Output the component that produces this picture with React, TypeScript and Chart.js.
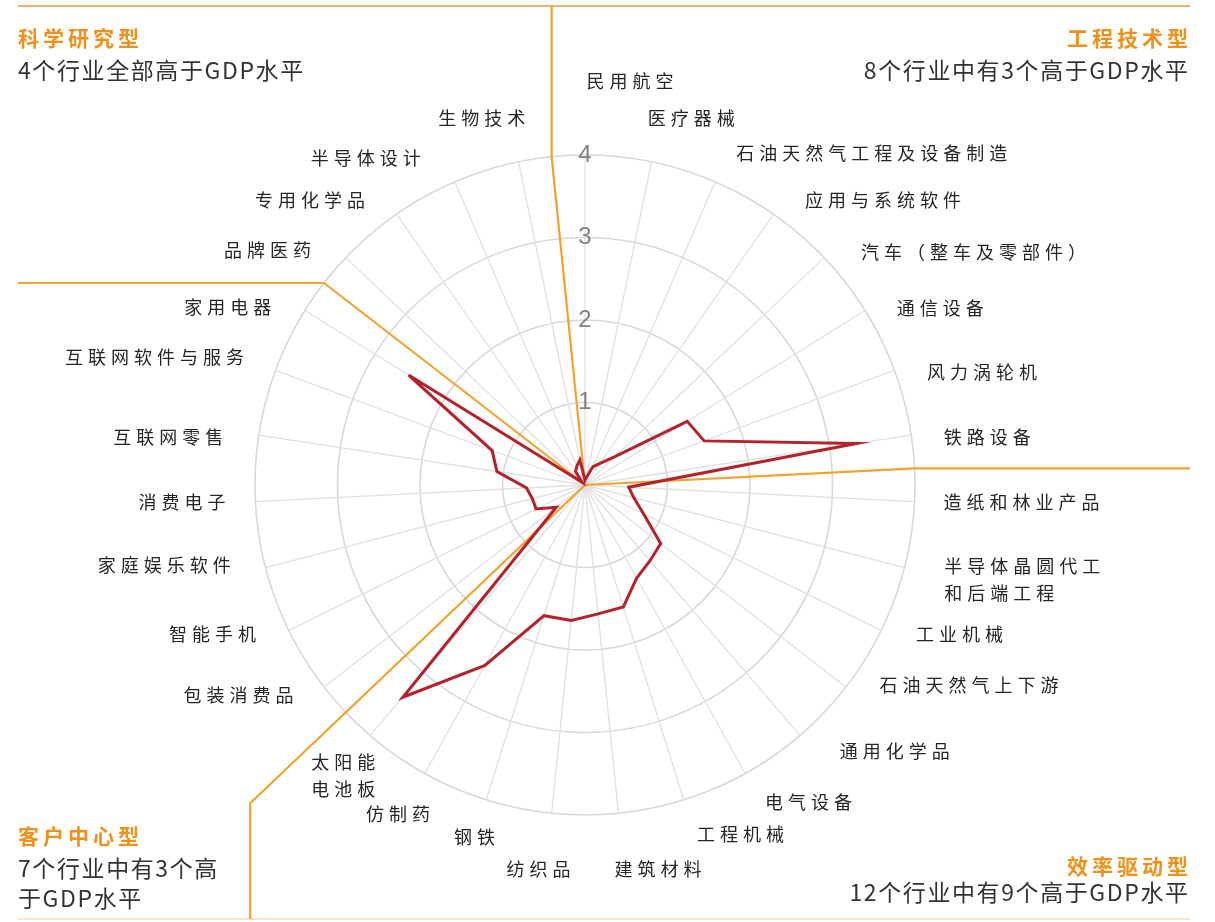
import React, { useEffect, useRef } from 'react';
import { Chart, registerables } from 'chart.js';

Chart.register(...registerables);

// ---- data ----
const categories: (string | string[])[] = [
  '民用航空', '医疗器械', '石油天然气工程及设备制造', '应用与系统软件', '汽车（整车及零部件）', '通信设备', '风力涡轮机', '铁路设备',
  '造纸和林业产品', ['半导体晶圆代工', '和后端工程'], '工业机械', '石油天然气上下游', '通用化学品', '电气设备', '工程机械', '建筑材料', '纺织品', '钢铁', '仿制药', ['太阳能', '电池板'],
  '包装消费品', '智能手机', '家庭娱乐软件', '消费电子', '互联网零售', '互联网软件与服务', '家用电器',
  '品牌医药', '专用化学品', '半导体设计', '生物技术',
];

const ratioValues: number[] = [
  0.06, 0.1, 0.24, 0.32, 0.5, 1.46, 1.54, 3.33,
  0.53, 0.61, 0.79, 1.16, 1.21, 1.29, 1.55, 1.57, 1.65, 1.66, 2.5, 3.39,
  0.44, 0.66, 0.66, 0.71, 1.08, 1.2, 2.52,
  0.05, 0.2, 0.25, 0.31,
];

const radialMax = 4;
const radialStep = 1;

// group boundaries (between category indices)
const groupBoundaries = [-0.5, 7.5, 19.5, 26.5];

const groupTitles = ['科学研究型', '工程技术型', '效率驱动型', '客户中心型'];
const groupNotes: string[][] = [
  ['4个行业全部高于GDP水平'],
  ['8个行业中有3个高于GDP水平'],
  ['12个行业中有9个高于GDP水平'],
  ['7个行业中有3个高', '于GDP水平'],
];

// ---- layout / style (not data) ----
const W = 1215;
const H = 922;
const ORANGE = '#F4A12E';
const TITLE_ORANGE = '#F39019';
const RED = '#B5222A';
const LABEL_FONT = '"Noto Sans CJK SC", "Noto Sans", sans-serif';

// per-label nudges (text only) relative to the scale's label anchor
const labelOffsets: [number, number][] = [
  [45, -33], [-12, -3], [5, 9], [8, 20], [7, 23], [-3, 19], [-6, 16], [-8, 8],
  [-12, -2], [0, 2], [-2, -14], [1, -27], [13, -15], [0, -7], [1, -5], [-8, 15], [23, 15], [21, -2], [25, 5], [32, 9],
  [2, -17], [4, -14], [5, -13], [11, -2], [5, 8], [7, 1], [1, 18],
  [-5, 21], [-8, 20], [-18, 14], [15, -3],
];

function drawSpaced(ctx: CanvasRenderingContext2D, text: string, x: number, y: number, spacing: number, align: 'left' | 'right' | 'center') {
  const chars = Array.from(text);
  const widths = chars.map((c) => ctx.measureText(c).width);
  const total = widths.reduce((a, b) => a + b, 0) + spacing * (chars.length - 1);
  let cur = align === 'left' ? x : align === 'right' ? x - total : x - total / 2;
  ctx.textAlign = 'left';
  chars.forEach((c, i) => {
    ctx.fillText(c, cur, y);
    cur += widths[i] + spacing;
  });
}

const decorPlugin = {
  id: 'decor',
  beforeDatasetsDraw(chart: any) {
    const s = chart.scales.r;
    const ctx: CanvasRenderingContext2D = chart.ctx;
    const R = s.drawingArea;
    const cx = s.xCenter;
    const cy = s.yCenter;
    const top = 6;
    const bottom = 919;
    const left = 18;
    const right = 1190;
    ctx.save();
    // frame lines
    ctx.lineWidth = 2;
    ctx.strokeStyle = '#F3B26E';
    ctx.beginPath();
    ctx.moveTo(left, top);
    ctx.lineTo(right, top);
    ctx.stroke();
    ctx.strokeStyle = '#FBE3C8';
    ctx.beginPath();
    ctx.moveTo(left, bottom);
    ctx.lineTo(right, bottom);
    ctx.stroke();

    ctx.strokeStyle = ORANGE;
    ctx.lineWidth = 2.2;
    ctx.lineJoin = 'round';
    // boundary: science / engineering -> up to top line
    let p = s.getPointPosition(groupBoundaries[0], R);
    ctx.beginPath();
    ctx.moveTo(cx, cy);
    ctx.lineTo(p.x, p.y);
    ctx.lineTo(p.x, top);
    ctx.stroke();
    // engineering / efficiency -> right
    p = s.getPointPosition(groupBoundaries[1], R);
    ctx.beginPath();
    ctx.moveTo(cx, cy);
    ctx.lineTo(p.x, p.y);
    ctx.lineTo(right, p.y);
    ctx.stroke();
    // efficiency / customer -> down
    p = s.getPointPosition(groupBoundaries[2], R * 1.4);
    ctx.beginPath();
    ctx.moveTo(cx, cy);
    ctx.lineTo(p.x, p.y);
    ctx.lineTo(p.x, bottom);
    ctx.stroke();
    // customer / science -> left
    p = s.getPointPosition(groupBoundaries[3], R);
    ctx.beginPath();
    ctx.moveTo(cx, cy);
    ctx.lineTo(p.x, p.y);
    ctx.lineTo(left, p.y);
    ctx.stroke();
    ctx.restore();
  },
  afterDraw(chart: any) {
    const s = chart.scales.r;
    const ctx: CanvasRenderingContext2D = chart.ctx;
    const R = s.drawingArea;
    const n = categories.length;
    ctx.save();
    // category labels
    ctx.fillStyle = '#262626';
    ctx.font = `18px ${LABEL_FONT}`;
    ctx.textBaseline = 'middle';
    const lineH = 27;
    categories.forEach((lab, i) => {
      const pos = s.getPointPosition(i, R + 41);
      const deg = Math.round((i * 360) / n);
      const align: 'left' | 'right' | 'center' = deg === 0 || deg === 180 ? 'center' : deg < 180 ? 'left' : 'right';
      const lines = Array.isArray(lab) ? lab : [lab];
      const off = labelOffsets[i] || [0, 0];
      const x = pos.x + off[0];
      const y0 = pos.y + off[1] - ((lines.length - 1) * lineH) / 2;
      lines.forEach((ln, k) => drawSpaced(ctx, ln, x, y0 + k * lineH, 5, align));
    });

    // group titles & notes
    const corners: { x: number; y: number; align: 'left' | 'right' }[] = [
      { x: 18, y: 38, align: 'left' },
      { x: 1188, y: 38, align: 'right' },
      { x: 1188, y: 866, align: 'right' },
      { x: 18, y: 836, align: 'left' },
    ];
    groupTitles.forEach((t, g) => {
      const c = corners[g];
      ctx.fillStyle = TITLE_ORANGE;
      ctx.font = `bold 21px ${LABEL_FONT}`;
      drawSpaced(ctx, t, c.x, c.y, 4, c.align);
      ctx.fillStyle = '#333333';
      ctx.font = `23px ${LABEL_FONT}`;
      groupNotes[g].forEach((ln, k) => {
        drawSpaced(ctx, ln, c.x, c.y + 32 + k * 30 - (g === 2 ? 6 : 0), 1.6, c.align);
      });
    });
    ctx.restore();
  },
};

export default function App() {
  const canvasRef = useRef<HTMLCanvasElement | null>(null);

  useEffect(() => {
    const canvas = canvasRef.current;
    if (!canvas) return;
    const chart = new Chart(canvas, {
      type: 'radar',
      data: {
        labels: categories,
        datasets: [
          {
            data: ratioValues,
            borderColor: RED,
            borderWidth: 3,
            pointRadius: 0,
            fill: false,
            tension: 0,
            backgroundColor: 'rgba(0,0,0,0)',
          },
        ],
      },
      options: {
        responsive: false,
        animation: false,
        layout: { padding: { left: 243, top: 143, right: 288, bottom: 95 } },
        plugins: { legend: { display: false }, tooltip: { enabled: false } },
        scales: {
          r: {
            min: 0,
            max: radialMax,
            ticks: {
              stepSize: radialStep,
              showLabelBackdrop: false,
              backdropPadding: 0,
              color: '#828282',
              font: { size: 24, family: '"Liberation Sans", Arial, sans-serif' },
            },
            grid: { color: '#d8d8d8', lineWidth: 1.6, circular: true },
            angleLines: { color: '#e0e0e0', lineWidth: 1.3 },
            pointLabels: { display: false },
          },
        },
      },
      plugins: [decorPlugin],
    });
    return () => chart.destroy();
  }, []);

  return (
    <div style={{ position: 'absolute', left: 0, top: 0, width: W, height: H, background: '#fff' }}>
      <canvas ref={canvasRef} width={W} height={H} style={{ display: 'block' }} />
    </div>
  );
}
